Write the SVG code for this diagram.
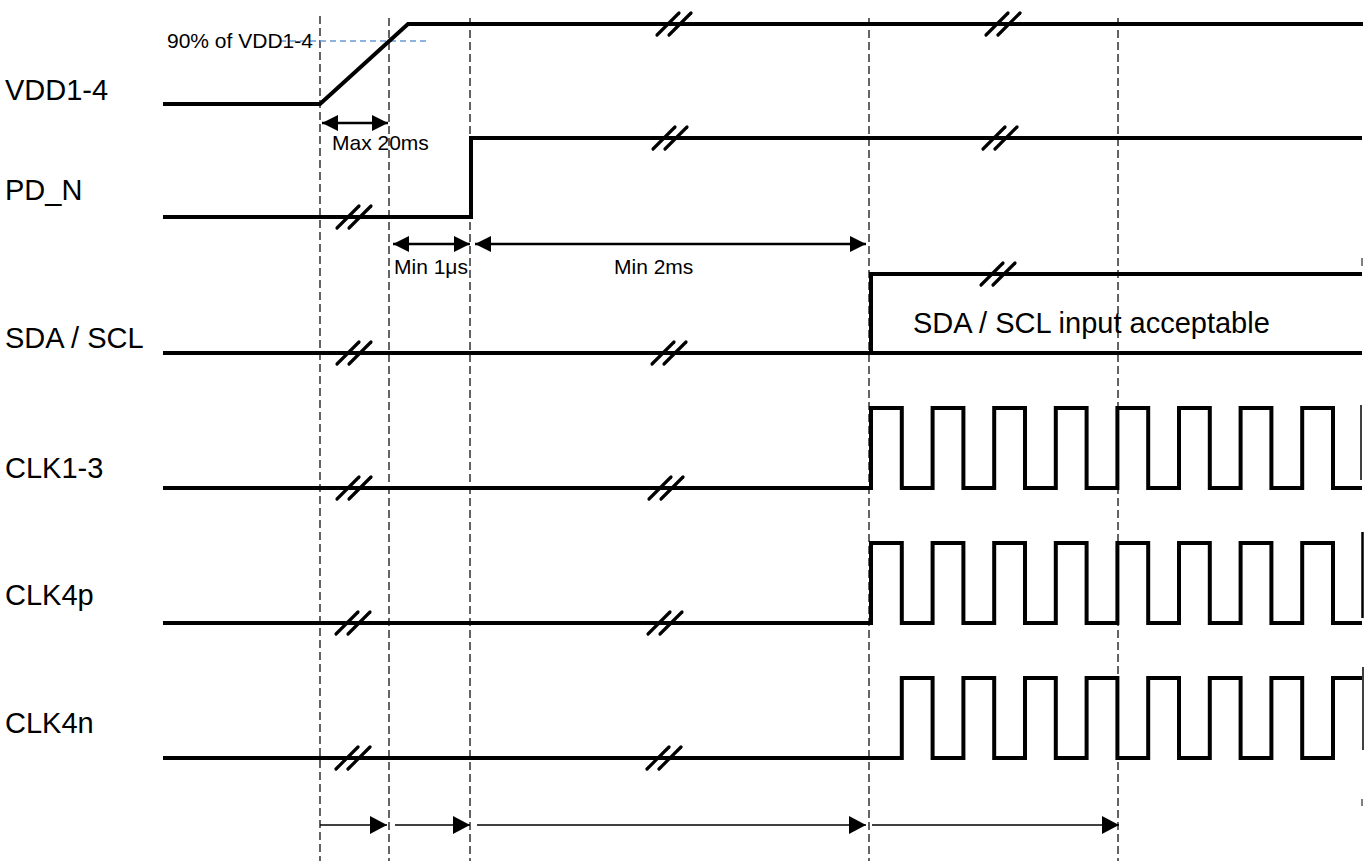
<svg xmlns="http://www.w3.org/2000/svg" xmlns:xlink="http://www.w3.org/1999/xlink" width="1367" height="861" viewBox="0 0 1367 861">
<style>
.wave{fill:none;stroke:#000;stroke-width:4;stroke-linejoin:miter;stroke-linecap:butt}
.thin{fill:none;stroke:#000;stroke-width:1.5}
.grid{stroke:#111;stroke-width:1.3;stroke-dasharray:8 4;fill:none}
.blue{stroke:#6b9bd6;stroke-width:1.4;stroke-dasharray:6 4;fill:none}
.lbl{font-family:"Liberation Sans",Arial,sans-serif;font-size:29px;fill:#000}
.small{font-family:"Liberation Sans",Arial,sans-serif;font-size:21px;fill:#000}
.dim{stroke:#000;stroke-width:2.5;fill:none}
.tim{stroke:#000;stroke-width:1.4;fill:none}
.brk line{stroke:#000;stroke-width:3.2;stroke-linecap:round}
.tick{stroke:#555;stroke-width:1.5}
</style>
<defs>
<marker id="hd" viewBox="0 0 16 16" refX="16" refY="8" markerWidth="16" markerHeight="16" markerUnits="userSpaceOnUse" orient="auto-start-reverse"><path d="M0,0 L16,8 L0,16 Z" fill="#000"/></marker>
<marker id="hb" viewBox="0 0 17 18" refX="17" refY="9" markerWidth="17" markerHeight="18" markerUnits="userSpaceOnUse" orient="auto"><path d="M0,0 L17,9 L0,18 Z" fill="#000"/></marker>
<g id="brk" class="brk"><line x1="-17" y1="11" x2="5" y2="-11"/><line x1="-5" y1="11" x2="17" y2="-11"/></g>
</defs>
<rect width="1367" height="861" fill="#fff"/>

<g id="gridlines">
<line class="grid" x1="320" y1="16" x2="320" y2="861"/>
<line class="grid" x1="389" y1="18" x2="389" y2="861"/>
<line class="grid" x1="470" y1="18" x2="470" y2="861"/>
<line class="grid" x1="869" y1="18" x2="869" y2="861"/>
<line class="grid" x1="1118" y1="18" x2="1118" y2="861"/>
</g>

<g id="vdd">
<text class="lbl" x="5" y="100">VDD1-4</text>
<line class="blue" x1="280" y1="41" x2="430" y2="41"/>
<text class="small" x="167" y="48">90% of VDD1-4</text>
<path class="wave" d="M163,104 H320 L408,24 H1363"/>
<use xlink:href="#brk" href="#brk" x="674" y="24"/>
<use xlink:href="#brk" href="#brk" x="1003" y="24"/>
</g>

<g id="pd_n">
<text class="lbl" x="5" y="200">PD_N</text>
<path class="wave" d="M163,217 H471 V138 H1362"/>
<use xlink:href="#brk" href="#brk" x="354" y="217"/>
<use xlink:href="#brk" href="#brk" x="670" y="138"/>
<use xlink:href="#brk" href="#brk" x="1000" y="138"/>
</g>

<g id="sda_scl">
<text class="lbl" x="5" y="348">SDA / SCL</text>
<path class="wave" d="M163,353 H1362"/>
<path class="wave" d="M871,353 V274 H1362"/>
<text class="lbl" x="913" y="333">SDA / SCL input acceptable</text>
<use xlink:href="#brk" href="#brk" x="354" y="353"/>
<use xlink:href="#brk" href="#brk" x="669" y="353"/>
<use xlink:href="#brk" href="#brk" x="998" y="274"/>
<line class="tick" x1="1362" y1="258" x2="1362" y2="266"/>
</g>

<g id="clk1_3">
<text class="lbl" x="5" y="478">CLK1-3</text>
<path class="wave" d="M163,488 H871 V408 H901.8 V488 H932.6 V408 H963.4 V488 H994.2 V408 H1025 V488 H1055.8 V408 H1086.6 V488 H1117.4 V408 H1148.2 V488 H1179 V408 H1209.8 V488 H1240.6 V408 H1271.4 V488 H1302.2 V408 H1333 V488 H1362"/>
<line class="thin" x1="1361" y1="405" x2="1361" y2="480"/>
<use xlink:href="#brk" href="#brk" x="354" y="488"/>
<use xlink:href="#brk" href="#brk" x="666" y="488"/>
</g>

<g id="clk4p">
<text class="lbl" x="5" y="605">CLK4p</text>
<path class="wave" d="M163,623 H871 V543 H901.8 V623 H932.6 V543 H963.4 V623 H994.2 V543 H1025 V623 H1055.8 V543 H1086.6 V623 H1117.4 V543 H1148.2 V623 H1179 V543 H1209.8 V623 H1240.6 V543 H1271.4 V623 H1302.2 V543 H1333 V623 H1362"/>
<line x1="1362.5" y1="532" x2="1362.5" y2="618" stroke="#000" stroke-width="2.5"/>
<use xlink:href="#brk" href="#brk" x="353" y="623"/>
<use xlink:href="#brk" href="#brk" x="665" y="623"/>
</g>

<g id="clk4n">
<text class="lbl" x="5" y="733">CLK4n</text>
<path class="wave" d="M163,758 H901.8 V678 H932.6 V758 H963.4 V678 H994.2 V758 H1025 V678 H1055.8 V758 H1086.6 V678 H1117.4 V758 H1148.2 V678 H1179 V758 H1209.8 V678 H1240.6 V758 H1271.4 V678 H1302.2 V758 H1333 V678 H1362"/>
<line class="thin" x1="1363" y1="667" x2="1363" y2="750"/>
<use xlink:href="#brk" href="#brk" x="353" y="758"/>
<use xlink:href="#brk" href="#brk" x="664" y="758"/>
<line class="tick" x1="1362" y1="799" x2="1362" y2="806"/>
</g>

<g id="connectors">
<line class="dim" x1="322" y1="123" x2="388" y2="123" marker-start="url(#hd)" marker-end="url(#hd)"/>
<text class="small" x="332" y="150">Max 20ms</text>
<line class="dim" x1="393" y1="244" x2="470" y2="244" marker-start="url(#hd)" marker-end="url(#hd)"/>
<text class="small" x="394" y="274">Min 1μs</text>
<line class="dim" x1="475" y1="244" x2="866" y2="244" marker-start="url(#hd)" marker-end="url(#hd)"/>
<text class="small" x="614" y="274">Min 2ms</text>
<line class="tim" x1="320" y1="825" x2="387" y2="825" marker-end="url(#hb)"/>
<line class="tim" x1="395" y1="825" x2="470" y2="825" marker-end="url(#hb)"/>
<line class="tim" x1="477" y1="825" x2="866" y2="825" marker-end="url(#hb)"/>
<line class="tim" x1="872" y1="825" x2="1119" y2="825" marker-end="url(#hb)"/>
</g>
</svg>
